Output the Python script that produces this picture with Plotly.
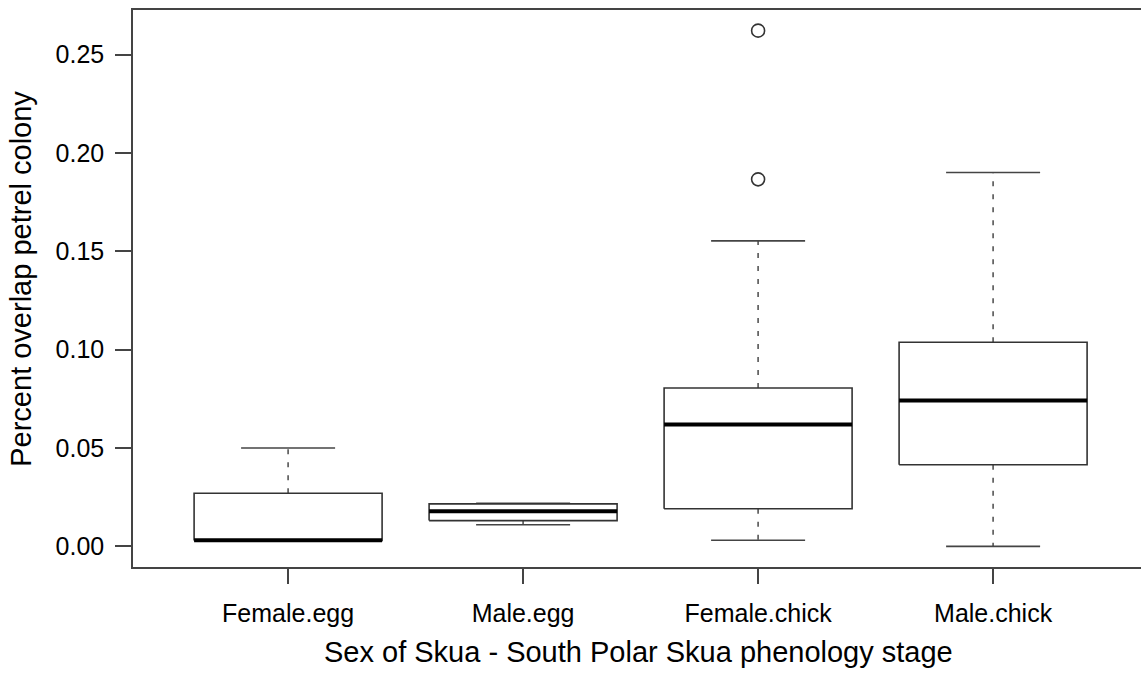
import plotly.graph_objects as go

# ---- data ----
categories = ["Female.egg", "Male.egg", "Female.chick", "Male.chick"]
lower_whisker = [0.0026, 0.0110, 0.0031, 0.0000]
q1 = [0.0030, 0.0131, 0.0191, 0.0415]
median = [0.0031, 0.0178, 0.0619, 0.0742]
q3 = [0.0270, 0.0216, 0.0805, 0.1038]
upper_whisker = [0.0500, 0.0219, 0.1553, 0.1901]
outlier_group = ["Female.chick", "Female.chick"]
outlier_values = [0.1866, 0.2622]

y_ticks = [0.00, 0.05, 0.10, 0.15, 0.20, 0.25]

FONT = "Liberation Sans, Arial, Helvetica, sans-serif"
FS = 25
FS_TITLE = 29
BOX_HALF = 0.4
STAPLE_HALF = 0.2
pos = {c: i + 1 for i, c in enumerate(categories)}

box_x, box_y = [], []
med_x, med_y = [], []
wh_x, wh_y = [], []
st_x, st_y = [], []
for c, lo, a, m, b, hi in zip(categories, lower_whisker, q1, median, q3, upper_whisker):
    p = pos[c]
    box_x += [p - BOX_HALF, p + BOX_HALF, p + BOX_HALF, p - BOX_HALF, p - BOX_HALF, None]
    box_y += [a, a, b, b, a, None]
    med_x += [p - BOX_HALF, p + BOX_HALF, None]
    med_y += [m, m, None]
    wh_x += [p, p, None, p, p, None]
    wh_y += [b, hi, None, a, lo, None]
    st_x += [p - STAPLE_HALF, p + STAPLE_HALF, None, p - STAPLE_HALF, p + STAPLE_HALF, None]
    st_y += [hi, hi, None, lo, lo, None]

fig = go.Figure()
fig.add_trace(go.Scatter(x=wh_x, y=wh_y, mode="lines",
                         line=dict(color="#555555", width=1.6, dash="5px,8px"),
                         hoverinfo="skip", showlegend=False))
fig.add_trace(go.Scatter(x=st_x, y=st_y, mode="lines",
                         line=dict(color="#444444", width=1.6),
                         hoverinfo="skip", showlegend=False))
fig.add_trace(go.Scatter(x=box_x, y=box_y, mode="lines",
                         line=dict(color="#333333", width=1.6),
                         hoverinfo="skip", showlegend=False))
fig.add_trace(go.Scatter(x=med_x, y=med_y, mode="lines",
                         line=dict(color="#000000", width=4),
                         hoverinfo="skip", showlegend=False))
fig.add_trace(go.Scatter(x=[pos[g] for g in outlier_group], y=outlier_values, mode="markers",
                         marker=dict(symbol="circle-open", size=13, color="#333333",
                                     line=dict(width=1.6)),
                         hoverinfo="skip", showlegend=False))

fig.update_layout(
    width=1141, height=695,
    margin=dict(l=133, r=0, t=10, b=128),
    paper_bgcolor="white", plot_bgcolor="white",
    font=dict(family=FONT, size=FS, color="black"),
    showlegend=False,
    xaxis=dict(
        range=[0.34, 0.34 + 1008 / 235],
        tickvals=[pos[c] for c in categories], ticktext=categories,
        ticks="outside", ticklen=15, tickwidth=1.5, tickcolor="#444444",
        showline=True, linecolor="#444444", linewidth=1.5, mirror=True,
        showgrid=False, zeroline=False, ticklabelstandoff=8,
        tickfont=dict(family=FONT, size=FS, color="black"),
    ),
    yaxis=dict(
        range=[-0.0105, 0.2727],
        tickvals=y_ticks, ticktext=[f"{v:.2f}" for v in y_ticks],
        ticks="outside", ticklen=16, tickwidth=1.5, tickcolor="#444444",
        showline=True, linecolor="#444444", linewidth=1.5, mirror=False,
        showgrid=False, zeroline=False, ticklabelstandoff=6,
        tickfont=dict(family=FONT, size=FS, color="black"),
    ),
    annotations=[
        dict(text="Sex of Skua - South Polar Skua phenology stage",
             xref="paper", yref="paper", x=(638 - 133) / 1008, y=(567.5 - 653) / 557.5,
             xanchor="center", yanchor="middle", showarrow=False,
             font=dict(family=FONT, size=FS_TITLE, color="black")),
        dict(text="Percent overlap petrel colony",
             xref="paper", yref="paper", x=(21 - 133) / 1008, y=(567.5 - 279) / 557.5,
             xanchor="center", yanchor="middle", textangle=-90, showarrow=False,
             font=dict(family=FONT, size=FS_TITLE, color="black")),
    ],
)

fig.write_html("out.html")
